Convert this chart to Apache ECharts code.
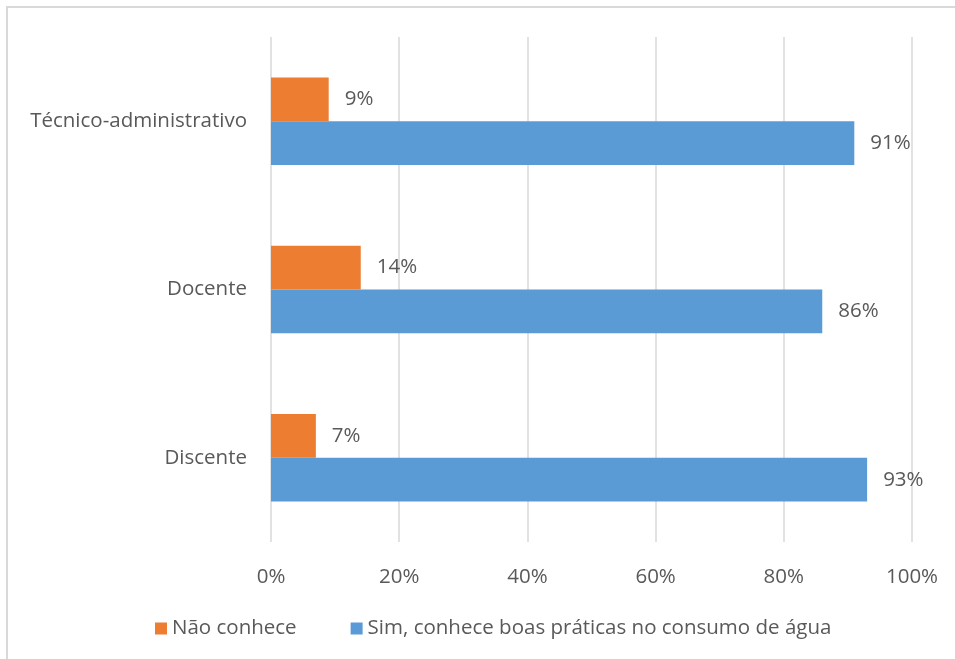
<!DOCTYPE html>
<html>
<head>
<meta charset="utf-8">
<script src="https://cdn.jsdelivr.net/npm/echarts@6/dist/echarts.min.js"></script>
<style>
  html, body { margin: 0; padding: 0; background: #fff; }
  #chart { width: 955px; height: 659px; }
</style>
</head>
<body>
<div id="chart"></div>
<script>
// Categories listed bottom-to-top (category y axis starts at the bottom)
const categories = ['Discente', 'Docente', 'Técnico-administrativo'];
const naoConhece = [7, 14, 9];
const simConhece = [93, 86, 91];
const seriesNames = ['Não conhece', 'Sim, conhece boas práticas no consumo de água'];
const xTicks = [0, 20, 40, 60, 80, 100];

const FONT = '"Open Sans", "Liberation Sans", sans-serif';
const TEXT = '#595959';
const FS = 20.5;

const chart = echarts.init(document.getElementById('chart'), null, { renderer: 'canvas' });

chart.setOption({
  animation: false,
  backgroundColor: '#ffffff',
  graphic: [{
    type: 'rect',
    shape: { x: 7, y: 7, width: 1000, height: 700 },
    style: { fill: 'none', stroke: '#d9d9d9', lineWidth: 2 },
    silent: true
  }],
  grid: { left: 271, right: 43, top: 37, bottom: 117, containLabel: false },
  legend: {
    bottom: 15,
    left: 150,
    itemWidth: 12,
    itemHeight: 12,
    itemGap: 54,
    icon: 'rect',
    textStyle: { color: TEXT, fontSize: FS, fontFamily: FONT },
    data: seriesNames
  },
  xAxis: {
    type: 'value',
    min: xTicks[0],
    max: xTicks[xTicks.length - 1],
    interval: 20,
    axisLine: { show: false },
    axisTick: { show: false },
    splitLine: { lineStyle: { color: '#d9d9d9', width: 1.5 } },
    axisLabel: { color: TEXT, fontSize: FS, fontFamily: FONT, margin: 25, formatter: v => v + '%' }
  },
  yAxis: {
    type: 'category',
    data: categories,
    axisLine: { show: false },
    axisTick: { show: false },
    axisLabel: { color: TEXT, fontSize: FS, fontFamily: FONT, margin: 24 }
  },
  series: [
    {
      name: seriesNames[0],
      type: 'bar',
      data: naoConhece,
      barCategoryGap: '48%',
      barGap: '0%',
      itemStyle: { color: '#ED7D31' },
      label: { show: true, position: 'right', distance: 16, color: TEXT, fontSize: FS, fontFamily: FONT, formatter: p => p.value + '%' }
    },
    {
      name: seriesNames[1],
      type: 'bar',
      data: simConhece,
      barCategoryGap: '48%',
      barGap: '0%',
      itemStyle: { color: '#5B9BD5' },
      label: { show: true, position: 'right', distance: 16, color: TEXT, fontSize: FS, fontFamily: FONT, formatter: p => p.value + '%' }
    }
  ]
});
</script>
</body>
</html>
